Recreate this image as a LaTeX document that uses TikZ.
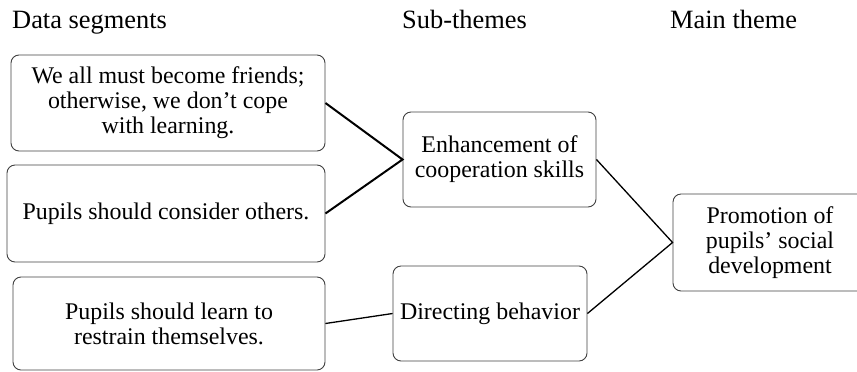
\documentclass[tikz,border=0pt]{standalone}
\usepackage{fontspec}
\setmainfont{Liberation Serif}
\begin{document}
\begin{tikzpicture}[x=1bp,y=-1bp,
  box/.style={draw=black!75, line width=0.9bp, rounded corners=8bp, align=center,
    inner sep=0pt, font=\fontsize{24}{25}\selectfont},
  head/.style={anchor=base west, inner sep=0pt, font=\fontsize{26.5}{28}\selectfont},
  link/.style={draw=black, line width=1.3bp},
  boldlink/.style={draw=black, line width=2bp}]
\useasboundingbox (0,0) rectangle (857,371);

% column headings
\node[head] (h1) at (12,28) {Data segments};
\node[head] (h2) at (402,28) {Sub-themes};
\node[head] (h3) at (670,28) {Main theme};

% data segments
\node[box, minimum width=314bp, minimum height=96bp] (a) at (168,103)
  {We all must become friends;\\otherwise, we don’t cope\\with learning.};
\node[box, minimum width=318bp, minimum height=97bp] (b) at (166,213.5)
  {Pupils should consider others.};
\node[box, minimum width=312bp, minimum height=93bp] (c) at (169,323.5)
  {Pupils should learn to\\restrain themselves.};

% sub-themes
\node[box, minimum width=193bp, minimum height=95bp] (d) at (499.5,159.5)
  {Enhancement of\\cooperation skills};
\node[box, minimum width=194bp, minimum height=95bp] (e) at (490,313.5)
  {Directing behavior};

% main theme (runs past the right edge of the page)
\node[box, minimum width=194bp, minimum height=97bp] (f) at (770,242.5)
  {Promotion of\\pupils’ social\\development};

% connectors
\draw[boldlink] (a.east) -- (d.west) -- (b.east);
\draw[link] (c.east) -- (e.west);
\draw[link] (d.east) -- (f.west) -- (e.east);
\end{tikzpicture}
\end{document}
